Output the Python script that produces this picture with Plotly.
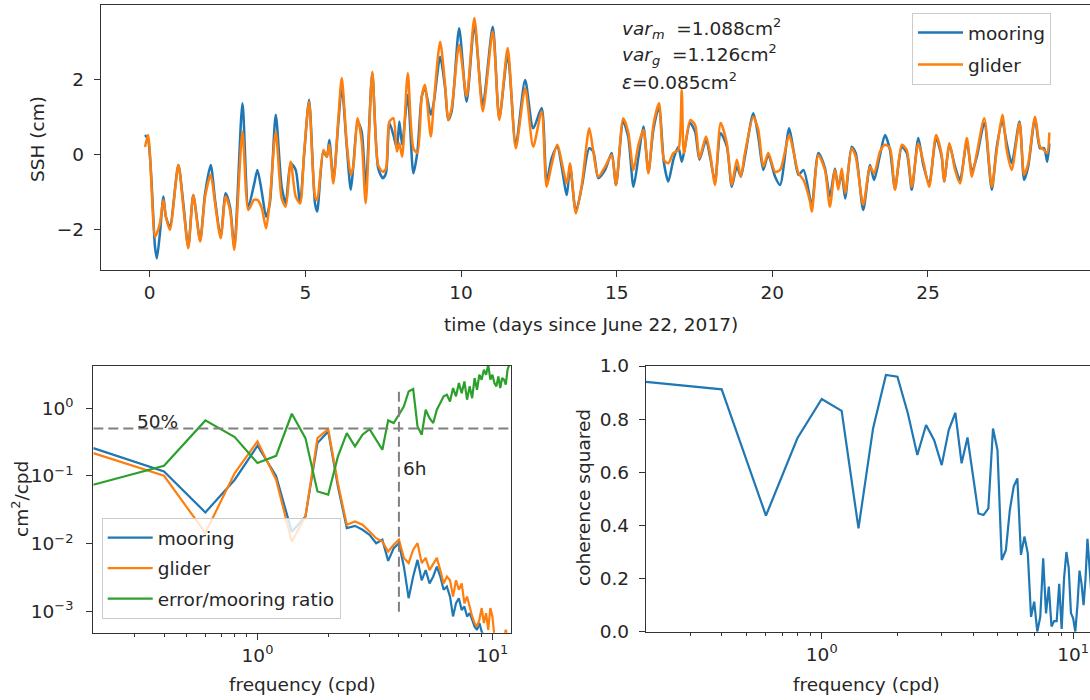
import math
import plotly.graph_objects as go

# ---------------- top panel: SSH time series ----------------
time_days = [-0.15, -0.05, 0.17, 0.23, 0.33, 0.44, 0.52, 0.65, 0.92, 1.08,
             1.24, 1.40, 1.62, 1.78, 1.96, 2.10, 2.28, 2.44, 2.58, 2.72,
             2.98, 3.17, 3.35, 3.46, 3.60, 3.74, 3.86, 4.05, 4.24, 4.37,
             4.53, 4.69, 4.83, 4.96, 5.12, 5.31, 5.38, 5.58, 5.69, 5.77,
             5.90, 6.06, 6.17, 6.33, 6.46, 6.54, 6.68, 6.81, 6.94, 7.15,
             7.34, 7.49, 7.59, 7.70, 7.83, 7.94, 8.02, 8.11, 8.29, 8.47,
             8.60, 8.74, 8.84, 9.03, 9.13, 9.33, 9.49, 9.59, 9.70, 9.94,
             10.18, 10.43, 10.70, 11.02, 11.23, 11.50, 11.76, 12.06, 12.32, 12.59,
             12.75, 12.91, 13.09, 13.40, 13.50, 13.69, 13.88, 14.12, 14.25, 14.41,
             14.63, 14.84, 14.98, 15.21, 15.37, 15.54, 15.70, 15.86, 16.02, 16.18,
             16.36, 16.52, 16.66, 16.82, 16.98, 17.09, 17.16, 17.36, 17.52, 17.66,
             17.87, 18.00, 18.16, 18.34, 18.54, 18.70, 18.86, 18.99, 19.12, 19.39,
             19.55, 19.71, 19.87, 20.09, 20.25, 20.54, 20.68, 20.84, 21.00, 21.21,
             21.27, 21.48, 21.69, 21.85, 22.01, 22.12, 22.23, 22.34, 22.55, 22.68,
             22.92, 23.14, 23.27, 23.46, 23.62, 23.78, 23.94, 24.16, 24.32, 24.48,
             24.69, 24.85, 25.04, 25.26, 25.44, 25.52, 25.69, 25.87, 26.03, 26.25,
             26.41, 26.57, 26.81, 27.05, 27.21, 27.39, 27.53, 27.69, 27.94, 28.09,
             28.22, 28.44, 28.60, 28.73, 28.83, 28.90]

ssh_mooring = [0.53, 0.40, -2.45, -2.76, -2.09, -1.11, -1.65, -1.91, -0.27, -1.29,
               -2.45, -1.07, -2.27, -1.02, -0.27, -1.20, -2.18, -1.02, -1.38, -2.45,
               1.38, -1.38, -0.80, -0.40, -0.98, -1.65, -1.29, 1.07, -0.85, -1.29,
               -0.22, -0.40, -1.29, 0.00, 1.47, -1.29, -1.51, 0.09, -0.05, 0.40,
               -0.67, 0.85, 1.82, 0.22, -0.93, -0.31, 0.89, 0.62, -0.85, 2.18,
               -0.36, -0.62, -0.49, 0.85, 0.53, 0.18, 0.89, 0.27, 1.60, -0.49,
               0.09, 1.56, 1.78, 1.07, 1.42, 2.62, 1.78, 0.93, 1.16, 3.38,
               1.42, 3.47, 1.33, 3.42, 0.98, 2.67, 0.27, 2.00, 0.71, 1.25,
               -0.71, -0.09, 0.22, -1.07, -0.27, -1.51, -0.85, 0.18, 0.09, -0.62,
               -0.40, 0.05, -0.80, 0.89, 0.49, -0.85, -0.05, 0.76, -0.45, 0.67,
               1.29, -0.22, -0.71, -0.13, 0.22, -0.18, 0.05, 0.85, 0.62, -0.13,
               0.40, -0.05, -0.71, 0.58, 0.22, -0.85, -0.31, -0.58, -0.05, 1.11,
               0.49, -0.40, 0.00, -0.58, -0.80, 0.71, 0.13, -0.53, -0.40, -1.16,
               -1.38, 0.05, -0.35, -1.11, -0.36, -0.85, -0.49, -1.16, 0.22, 0.05,
               -1.47, -0.27, -0.67, 0.00, 0.53, 0.13, -0.89, 0.22, 0.05, -0.93,
               0.45, -0.27, -0.76, 0.45, -0.05, -0.71, 0.27, -0.31, -0.67, 0.36,
               -0.45, -0.05, 0.85, -0.93, 0.22, 0.89, 0.31, -0.22, 0.89, -0.67,
               -0.31, 0.98, 0.18, 0.18, -0.18, 0.31]

ssh_glider = [0.21, 0.53, -2.18, -2.09, -1.82, -1.20, -1.65, -2.00, -0.27, -1.38,
              -2.49, -1.07, -2.31, -1.11, -0.53, -1.29, -2.22, -1.11, -1.47, -2.53,
              0.62, -1.47, -1.20, -1.20, -1.42, -1.96, -1.20, 0.62, -1.16, -1.38,
              -0.18, -1.11, -1.29, 0.05, 1.42, -1.11, -1.20, 0.13, -0.05, 0.27,
              -0.76, 0.98, 2.05, 0.31, -0.53, -0.31, 0.98, 0.36, -1.29, 2.22,
              -0.27, -0.45, -0.36, 0.89, 0.98, 0.09, 0.31, -0.05, 2.18, 0.18,
              0.05, 1.56, 1.87, 0.49, 1.42, 3.02, 1.87, 0.93, 1.25, 2.93,
              1.56, 3.65, 1.16, 3.29, 0.93, 2.85, 0.18, 1.78, 0.22, 1.16,
              -0.85, -0.27, 0.27, -0.76, -0.22, -1.56, -0.80, 0.71, 0.09, -0.58,
              -0.31, 0.00, -0.80, 0.98, 0.62, -0.40, 0.27, 0.67, -0.49, 0.80,
              1.38, -0.13, -0.22, 0.05, 0.13, 1.73, 0.05, 0.93, 0.80, -0.09,
              0.49, 0.05, -0.80, 0.85, 0.31, -0.80, -0.13, -0.58, 0.05, 1.02,
              0.67, -0.31, 0.05, -0.45, -0.40, 0.53, 0.09, -0.49, -0.67, -1.24,
              -1.51, 0.00, -0.40, -1.38, -0.40, -0.93, -0.36, -1.02, 0.18, -0.05,
              -1.33, -0.31, -0.49, 0.09, 0.27, 0.18, -0.93, 0.27, 0.13, -0.85,
              0.31, -0.18, -0.85, 0.53, 0.00, -0.71, 0.31, -0.40, -0.76, 0.45,
              -0.58, 0.05, 0.98, -0.85, 0.13, 1.07, 0.13, -0.40, 0.85, -0.53,
              -0.22, 1.02, 0.22, 0.13, 0.05, 0.60]

time_ticks = [0, 5, 10, 15, 20, 25]
ssh_ticks = [-2, 0, 2]

# ---------------- bottom panels: spectra and coherence ----------------
freq_cpd = [0.2, 0.4, 0.6, 0.8, 1.0, 1.2, 1.4, 1.6, 1.8, 2.0,
            2.2, 2.4, 2.6, 2.8, 3.0, 3.2, 3.4, 3.6, 3.8, 4.0,
            4.2, 4.4, 4.6, 4.8, 5.0, 5.2, 5.4, 5.6, 5.8, 6.0,
            6.2, 6.4, 6.6, 6.8, 7.0, 7.2, 7.4, 7.6, 7.8, 8.0,
            8.2, 8.4, 8.6, 8.8, 9.0, 9.2, 9.4, 9.6, 9.8, 10.0,
            10.2, 10.4, 10.6, 10.8, 11.0, 11.2, 11.4, 11.6, 11.8, 12.0]

psd_mooring = [0.257, 0.116, 0.029, 0.088, 0.279, 0.100, 0.015, 0.0253, 0.305, 0.453,
               0.070, 0.0170, 0.0184, 0.0161, 0.0136, 0.0102, 0.0115, 0.0056, 0.0086, 0.0102,
               0.0046, 0.00158, 0.0033, 0.0058, 0.0029, 0.0041, 0.0026, 0.0033, 0.0046, 0.0033,
               0.0021, 0.00235, 0.00167, 0.00085, 0.00133, 0.00158, 0.00106, 0.00119, 0.00085, 0.00095,
               0.00076, 0.00060, 0.00054, 0.00068, 0.00051, 0.00043, 0.00038, 0.00040, 0.00033, 0.00036,
               0.00030, 0.00028, 0.00031, 0.00026, 0.00027, 0.00024, 0.00026, 0.00022, 0.00021, 0.00023]

psd_glider = [0.217, 0.1005, 0.0145, 0.110, 0.323, 0.088, 0.0108, 0.0253, 0.361, 0.490,
              0.078, 0.0191, 0.0213, 0.0191, 0.0152, 0.0121, 0.0108, 0.0077, 0.0097, 0.0115,
              0.0062, 0.0052, 0.0082, 0.0102, 0.0052, 0.0062, 0.0041, 0.0052, 0.0062, 0.0041,
              0.0026, 0.0033, 0.0029, 0.00167, 0.0029, 0.0021, 0.0026, 0.00133, 0.00167, 0.00119,
              0.00085, 0.00068, 0.00060, 0.00076, 0.00113, 0.00068, 0.00095, 0.00054, 0.00113, 0.00085,
              0.00043, 0.00034, 0.00038, 0.00030, 0.00033, 0.00040, 0.00054, 0.00043, 0.00034, 0.00030]

error_ratio = [0.074, 0.141, 0.658, 0.373, 0.155, 0.198, 0.825, 0.361, 0.059, 0.053,
               0.194, 0.428, 0.272, 0.405, 0.490, 0.341, 0.243, 0.658, 0.601, 0.798,
               1.06, 1.76, 1.91, 0.537, 0.405, 0.945, 0.712, 0.601, 0.945, 1.19,
               1.49, 1.57, 1.25, 1.97, 1.49, 2.34, 1.66, 2.47, 1.33, 2.09,
               1.40, 2.77, 1.86, 3.10, 2.62, 3.67, 3.10, 4.35, 2.62, 3.10,
               2.34, 2.09, 2.93, 1.97, 2.77, 2.62, 2.21, 3.67, 4.35, 5.16]

coherence_sq = [0.94, 0.912, 0.437, 0.728, 0.876, 0.831, 0.389, 0.765, 0.966, 0.960,
                0.822, 0.665, 0.778, 0.721, 0.627, 0.759, 0.824, 0.634, 0.731, 0.583,
                0.445, 0.439, 0.464, 0.765, 0.684, 0.270, 0.307, 0.458, 0.546, 0.577,
                0.289, 0.358, 0.295, 0.056, 0.113, 0.0, 0.056, 0.276, 0.069, 0.17,
                0.02, 0.04, 0.04, 0.18, 0.01, 0.20, 0.30, 0.24, 0.07, 0.05,
                0.0, 0.10, 0.23, 0.18, 0.10, 0.20, 0.35, 0.25, 0.15, 0.12]

ratio_level = 0.5          # 50% line
cutoff_freq = 4.0          # 6 h
cutoff_span = [1e-3, 2.0]
freq_span = [0.2, 12.0]
log_tick_vals = [1, 10]
log_tick_text = ["10<sup>0</sup>", "10<sup>1</sup>"]
psd_tick_vals = [1e-3, 1e-2, 1e-1, 1]
psd_tick_text = ["10<sup>\u22123</sup>", "10<sup>\u22122</sup>", "10<sup>\u22121</sup>", "10<sup>0</sup>"]
minor_log = [0.3, 0.4, 0.5, 0.6, 0.7, 0.8, 0.9, 2, 3, 4, 5, 6, 7, 8, 9]
coh_ticks = [0.0, 0.2, 0.4, 0.6, 0.8, 1.0]

assert len(time_days) == len(ssh_mooring) == len(ssh_glider)
assert len(freq_cpd) == len(psd_mooring) == len(psd_glider) == len(error_ratio) == len(coherence_sq)

BLUE, ORANGE, GREEN = "#1f77b4", "#ff7f0e", "#2ca02c"
AX = "#333333"
FONT = "DejaVu Sans"
FS = 18.5
W, H = 1090, 700

def px(x):
    return x / W

def py(y):
    return 1 - y / H

fig = go.Figure()

fig.add_trace(go.Scatter(x=time_days, y=ssh_mooring, mode="lines", name="mooring", legendgroup="m1",
                         line=dict(color=BLUE, width=2.5, shape="spline", smoothing=0.7),
                         xaxis="x", yaxis="y", legend="legend"))
fig.add_trace(go.Scatter(x=time_days, y=ssh_glider, mode="lines", name="glider", legendgroup="g1",
                         line=dict(color=ORANGE, width=2.5, shape="spline", smoothing=0.7),
                         xaxis="x", yaxis="y", legend="legend"))

fig.add_trace(go.Scatter(x=freq_cpd, y=psd_mooring, mode="lines", name="mooring", legendgroup="m2",
                         line=dict(color=BLUE, width=2.2), xaxis="x2", yaxis="y2", legend="legend2"))
fig.add_trace(go.Scatter(x=freq_cpd, y=psd_glider, mode="lines", name="glider", legendgroup="g2",
                         line=dict(color=ORANGE, width=2.2), xaxis="x2", yaxis="y2", legend="legend2"))
fig.add_trace(go.Scatter(x=freq_cpd, y=error_ratio, mode="lines", name="error/mooring ratio",
                         legendgroup="r2",
                         line=dict(color=GREEN, width=2.2), xaxis="x2", yaxis="y2", legend="legend2"))
fig.add_trace(go.Scatter(x=freq_span, y=[ratio_level, ratio_level], mode="lines", showlegend=False,
                         line=dict(color="#808080", width=2, dash="10px,5px"), xaxis="x2", yaxis="y2"))
fig.add_trace(go.Scatter(x=[cutoff_freq, cutoff_freq], y=cutoff_span, mode="lines", showlegend=False,
                         line=dict(color="#808080", width=2, dash="10px,5px"), xaxis="x2", yaxis="y2"))

fig.add_trace(go.Scatter(x=freq_cpd, y=coherence_sq, mode="lines", showlegend=False,
                         line=dict(color=BLUE, width=2.2), xaxis="x3", yaxis="y3"))

common = dict(showgrid=False, zeroline=False, showline=True, linecolor=AX, linewidth=1.3,
              ticks="outside", ticklen=6, tickwidth=1.3, tickcolor=AX,
              tickfont=dict(family=FONT, size=FS, color="#262626"))

fig.update_layout(
    width=W, height=H, template="none",
    paper_bgcolor="white", plot_bgcolor="white",
    margin=dict(l=0, r=0, t=0, b=0),
    font=dict(family=FONT, size=FS, color="#262626"),
    xaxis=dict(domain=[px(101), 1.0], range=[-1.564, 30.205], tickvals=time_ticks,
               anchor="y", mirror=True, **common),
    yaxis=dict(domain=[py(270), py(5)], range=[-3.07, 4.0], tickvals=ssh_ticks,
               anchor="x", ticklabelstandoff=6, **common),
    xaxis2=dict(domain=[px(93.3), px(511)], type="log",
                range=[math.log10(0.2), math.log10(12)], tickvals=log_tick_vals, ticktext=log_tick_text,
                anchor="y2", mirror=True,
                minor=dict(tickvals=minor_log, ticks="outside", ticklen=3.5, tickwidth=1, tickcolor=AX),
                **common),
    yaxis2=dict(domain=[py(632.7), py(366)], type="log", range=[-3.31, 0.62],
                tickvals=psd_tick_vals, ticktext=psd_tick_text, anchor="x2", mirror=True,
                ticklabelstandoff=9, **common),
    xaxis3=dict(domain=[px(646), 1.0], type="log", range=[-0.699, 1.067],
                tickvals=log_tick_vals, ticktext=log_tick_text, anchor="y3", mirror=True,
                minor=dict(tickvals=minor_log, ticks="outside", ticklen=3.5, tickwidth=1, tickcolor=AX),
                **common),
    yaxis3=dict(domain=[py(631.7), py(366)], range=[0, 1], tickvals=coh_ticks, tickformat=".1f",
                anchor="x3", ticklabelstandoff=6, **common),
    legend=dict(x=px(912), y=py(13), xanchor="left", yanchor="top", traceorder="grouped",
                bgcolor="rgba(255,255,255,0.8)", bordercolor="#cccccc", borderwidth=1,
                font=dict(family=FONT, size=FS, color="#262626"), tracegroupgap=5,
                itemwidth=45),
    legend2=dict(x=px(101.7), y=py(518), xanchor="left", yanchor="top", traceorder="grouped",
                 bgcolor="rgba(255,255,255,0.8)", bordercolor="#cccccc", borderwidth=1,
                 font=dict(family=FONT, size=FS, color="#262626"), tracegroupgap=3.5,
                 itemwidth=45),
)

ann = []
def text(x, y, s, xa="center", ya="middle", angle=0):
    ann.append(dict(x=px(x), y=py(y), xref="paper", yref="paper", text=s, showarrow=False,
                    xanchor=xa, yanchor=ya, textangle=angle,
                    font=dict(family=FONT, size=FS, color="#262626")))

text(37, 139, "SSH (cm)", angle=-90)
text(591, 324, "time (days since June 22, 2017)")
text(20, 499, "cm<sup>2</sup>/cpd", angle=-90)
text(302, 684, "frequency (cpd)")
text(583, 497, "coherence squared", angle=-90)
text(866, 684, "frequency (cpd)")
text(620, 28, "<i>var</i><sub><i>m</i></sub>&nbsp;&nbsp;=1.088cm<sup>2</sup>", xa="left")
text(620, 55, "<i>var</i><sub><i>g</i></sub>&nbsp;&nbsp;=1.126cm<sup>2</sup>", xa="left")
text(620, 81, "<i>\u03b5</i>=0.085cm<sup>2</sup>", xa="left")
text(135, 421, "50%", xa="left")
text(401, 468, "6h", xa="left")
fig.update_layout(annotations=ann)

fig.write_html(
    "out.html",
    config={"displayModeBar": False},
    post_script="document.body.style.margin='0px';document.body.style.padding='0px';"
                "document.body.style.overflow='hidden';",
)
